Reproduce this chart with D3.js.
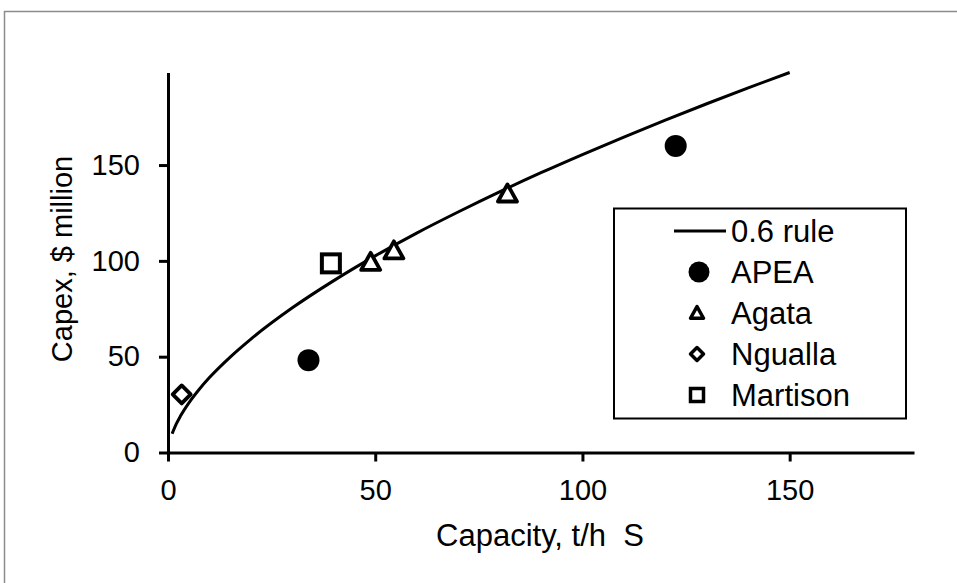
<!DOCTYPE html>
<html>
<head>
<meta charset="utf-8">
<script src="https://cdn.jsdelivr.net/npm/d3@7"></script>
<style>
  html, body { margin: 0; padding: 0; background: #fff; }
  svg { display: block; }
  text { font-family: "Liberation Sans", Arial, sans-serif; fill: #000; }
</style>
</head>
<body>
<svg id="chart" width="957" height="583"></svg>
<script>
// ---- data ----
const xTicks = [0, 50, 100, 150];
const yTicks = [0, 50, 100, 150];

// 0.6 rule curve
const ruleCapacity = [1, 2, 3, 5, 7.5, 10, 15, 20, 30, 40, 50, 60, 70, 80, 90, 100, 110, 120, 130, 140, 150];
const ruleCapex    = [9.8, 14.9, 19.0, 25.8, 32.9, 39.1, 49.8, 59.2, 75.5, 89.7, 102.6, 114.5, 125.5, 136.0, 146.0, 155.5, 164.6, 173.4, 182.0, 190.3, 198.3];

const apeaCapacity = [33.9, 122.5];
const apeaCapex    = [48.2, 160];
const agataCapacity = [48.9, 54.5, 81.9];
const agataCapex    = [99.3, 105.3, 135];
const nguallaCapacity = [3.3];
const nguallaCapex    = [30.3];
const martisonCapacity = [39.3];
const martisonCapex    = [98.7];

const legendLabels = ["0.6 rule", "APEA", "Agata", "Ngualla", "Martison"];

// ---- drawing ----
const svg = d3.select("#chart");
const FS = 29;     // tick labels, y title
const FS_L = 31;   // legend, x title

// outer chart border (only top and left visible)
svg.append("path")
  .attr("d", "M4.5,583 V11.5 H957")
  .attr("fill", "none").attr("stroke", "#8c8c8c").attr("stroke-width", 1.5);

const x = d3.scaleLinear().domain([0, 180]).range([168, 914]);
const y = d3.scaleLinear().domain([0, 198.3]).range([452.5, 72.5]);

// axes
const xAxis = d3.axisBottom(x).tickValues(xTicks).tickSize(9).tickSizeOuter(0).tickPadding(18);
const yAxis = d3.axisLeft(y).tickValues(yTicks).tickSize(9).tickSizeOuter(0).tickPadding(19);

const gx = svg.append("g").attr("transform", `translate(0,${y(0)})`).call(xAxis);
const gy = svg.append("g").attr("transform", `translate(${x(0)},0)`).call(yAxis);
[gx, gy].forEach(g => {
  g.select(".domain").attr("stroke", "#000").attr("stroke-width", 3);
  g.selectAll(".tick line").attr("stroke", "#000").attr("stroke-width", 3);
  g.selectAll(".tick text").attr("font-size", FS).attr("font-family", "Liberation Sans, Arial, sans-serif").attr("fill", "#000");
});

// axis titles
svg.append("text").attr("x", 540).attr("y", 546).attr("text-anchor", "middle")
  .attr("font-size", FS_L).text("Capacity, t/h\u00a0\u00a0S");
svg.append("text").attr("transform", "translate(72,259) rotate(-90)").attr("text-anchor", "middle")
  .attr("font-size", FS).text("Capex, $ million");

// curve
const rule = ruleCapacity.map((c, i) => [c, ruleCapex[i]]);
svg.append("path").datum(rule)
  .attr("fill", "none").attr("stroke", "#000").attr("stroke-width", 3)
  .attr("d", d3.line().x(d => x(d[0])).y(d => y(d[1])).curve(d3.curveMonotoneX));

function zip(a, b) { return a.map((v, i) => [v, b[i]]); }

// marker shapes
function triPath(s) { // width s
  const h = s * 0.9;
  return `M0,${-h * 0.55} L${s / 2},${h * 0.45} L${-s / 2},${h * 0.45} Z`;
}
function diaPath(s) {
  const r = s / 2;
  return `M0,${-r} L${r},0 L0,${r} L${-r},0 Z`;
}

// APEA circles
svg.selectAll(".apea").data(zip(apeaCapacity, apeaCapex)).enter().append("circle")
  .attr("cx", d => x(d[0])).attr("cy", d => y(d[1])).attr("r", 11).attr("fill", "#000");

// Agata triangles
svg.selectAll(".agata").data(zip(agataCapacity, agataCapex)).enter().append("path")
  .attr("transform", d => `translate(${x(d[0])},${y(d[1])})`)
  .attr("d", triPath(19)).attr("fill", "#fff").attr("stroke", "#000").attr("stroke-width", 3.8)
  .attr("stroke-linejoin", "round");

// Ngualla diamonds
svg.selectAll(".ngualla").data(zip(nguallaCapacity, nguallaCapex)).enter().append("path")
  .attr("transform", d => `translate(${x(d[0])},${y(d[1])})`)
  .attr("d", diaPath(18)).attr("fill", "#fff").attr("stroke", "#000").attr("stroke-width", 3.8)
  .attr("stroke-linejoin", "round");

// Martison squares
svg.selectAll(".martison").data(zip(martisonCapacity, martisonCapex)).enter().append("rect")
  .attr("x", d => x(d[0]) - 9).attr("y", d => y(d[1]) - 9).attr("width", 18).attr("height", 18)
  .attr("fill", "#fff").attr("stroke", "#000").attr("stroke-width", 4);

// legend
const lg = svg.append("g");
lg.append("rect").attr("x", 614).attr("y", 208.5).attr("width", 292).attr("height", 210)
  .attr("fill", "#fff").attr("stroke", "#000").attr("stroke-width", 2);
const rowY = [231, 272, 313, 354, 395];
const mx = 697;
legendLabels.forEach((lab, i) => {
  lg.append("text").attr("x", 731).attr("y", rowY[i]).attr("dy", "0.36em")
    .attr("font-size", FS_L).text(lab);
});
lg.append("line").attr("x1", 674).attr("x2", 726).attr("y1", rowY[0]).attr("y2", rowY[0])
  .attr("stroke", "#000").attr("stroke-width", 3);
lg.append("circle").attr("cx", mx + 2).attr("cy", rowY[1]).attr("r", 10.5).attr("fill", "#000");
lg.append("path").attr("transform", `translate(${mx},${rowY[2]})`).attr("d", triPath(13))
  .attr("fill", "#fff").attr("stroke", "#000").attr("stroke-width", 3.5).attr("stroke-linejoin", "round");
lg.append("path").attr("transform", `translate(${mx},${rowY[3]})`).attr("d", diaPath(13))
  .attr("fill", "#fff").attr("stroke", "#000").attr("stroke-width", 3.5).attr("stroke-linejoin", "round");
lg.append("rect").attr("x", mx - 6.5).attr("y", rowY[4] - 6.5).attr("width", 13).attr("height", 13)
  .attr("fill", "#fff").attr("stroke", "#000").attr("stroke-width", 3.5);
</script>
</body>
</html>
